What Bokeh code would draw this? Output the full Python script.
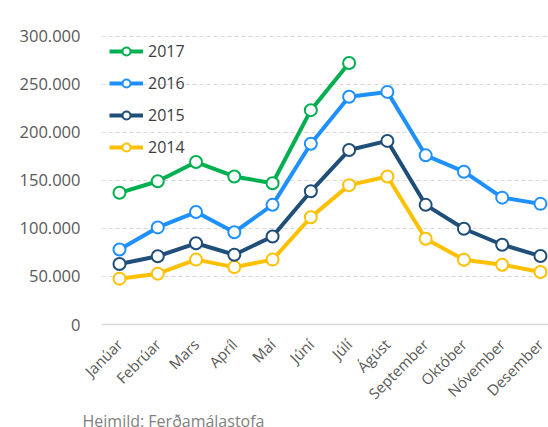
import math
from bokeh.plotting import figure
from bokeh.models import Range1d, FixedTicker, Legend, LegendItem, Title
from bokeh.embed import file_html
from bokeh.resources import INLINE

months = ["Janúar", "Febrúar", "Mars", "Apríl", "Maí", "Júní", "Júlí",
          "Ágúst", "September", "Október", "Nóvember", "Desember"]
x_idx = list(range(len(months)))

y2017 = [137000, 149000, 169000, 154000, 147000, 223000, 272000]
y2016 = [78000, 101000, 117000, 96000, 124500, 188000, 237000, 242000, 176000, 159000, 132000, 125500]
y2015 = [63000, 71000, 84500, 72600, 91600, 138600, 181500, 191000, 124500, 99600, 83000, 71200]
y2014 = [47700, 52900, 67500, 59700, 67500, 111600, 145000, 154000, 89200, 67400, 62200, 54600]

y_ticks = [0, 50000, 100000, 150000, 200000, 250000, 300000]
y_tick_labels = ["0", "50.000", "100.000", "150.000", "200.000", "250.000", "300.000"]

source_text = "Heimild: Ferðamálastofa"

series = [
    ("2017", y2017, "#00B050"),
    ("2016", y2016, "#1E90FF"),
    ("2015", y2015, "#1F4E79"),
    ("2014", y2014, "#FFC000"),
]

FONT = "Open Sans"

p = figure(width=548, height=427, output_backend="svg", toolbar_location=None,
           x_range=Range1d(-0.47, 11.21), y_range=Range1d(0, 303800),
           min_border_left=101, min_border_right=0, min_border_top=32,
           min_border_bottom=103)
p.outline_line_color = None
p.background_fill_color = "white"
p.border_fill_color = "white"

# x axis
p.xaxis.ticker = FixedTicker(ticks=x_idx)
p.xaxis.major_label_overrides = {i: m for i, m in enumerate(months)}
p.xaxis.major_label_orientation = math.pi / 4
p.xaxis.major_tick_line_color = None
p.xaxis.minor_tick_line_color = None
p.xaxis.axis_line_color = "#d9d9d9"
p.xaxis.axis_line_width = 1.5
p.xaxis.major_label_text_font = FONT
p.xaxis.major_label_text_font_size = "15px"
p.xaxis.major_label_text_color = "#595959"
p.xaxis.major_label_standoff = 11
p.xgrid.grid_line_color = None

# y axis
p.yaxis.ticker = FixedTicker(ticks=y_ticks)
p.yaxis.major_label_overrides = {t: l for t, l in zip(y_ticks, y_tick_labels)}
p.yaxis.axis_line_color = None
p.yaxis.major_tick_line_color = None
p.yaxis.minor_tick_line_color = None
p.yaxis.major_label_text_font = FONT
p.yaxis.major_label_text_font_size = "16.5px"
p.yaxis.major_label_text_color = "#595959"
p.yaxis.major_label_standoff = 15
p.ygrid.grid_line_color = "#d9d9d9"
p.ygrid.grid_line_dash = "4 3"
p.ygrid.grid_line_width = 1.2

items = []
for name, ys, col in reversed(series):
    xs = x_idx[:len(ys)]
    ln = p.line(xs, ys, line_color=col, line_width=4)
    sc = p.scatter(xs, ys, marker="circle", size=12, fill_color="white",
                   line_color=col, line_width=2)
    items.append(LegendItem(label=name, renderers=[ln, sc]))

items = list(reversed(items))
legend = Legend(items=items, location="top_left", margin=8, padding=10,
                glyph_width=34, glyph_height=20, label_height=20, spacing=10,
                label_standoff=5, label_text_font=FONT,
                label_text_font_size="16px", label_text_color="#404040",
                background_fill_alpha=0, border_line_color=None)
p.add_layout(legend)

src = Title(text=source_text, align="left", offset=-19,
            text_font=FONT, text_font_size="16px", text_color="#808080",
            text_font_style="normal", standoff=-12)
p.add_layout(src, "below")

open("out.html", "w").write(file_html(p, INLINE))
